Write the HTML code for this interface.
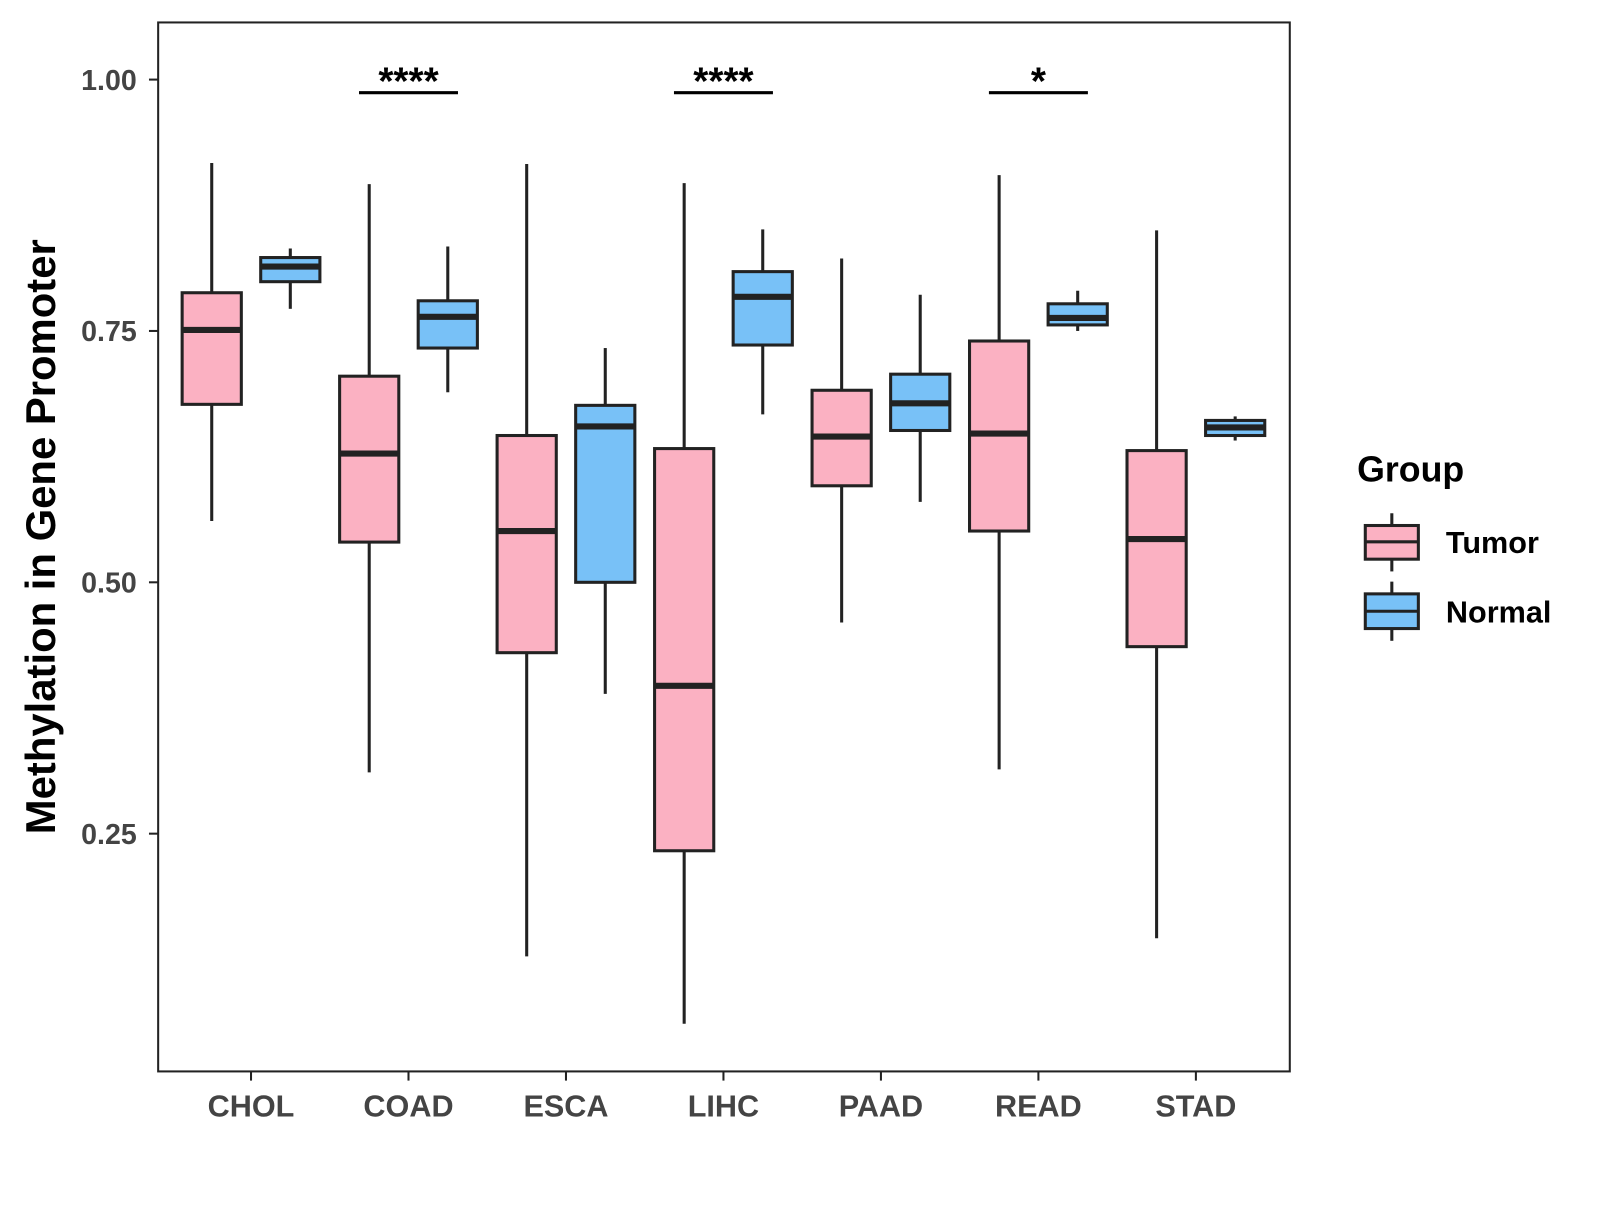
<!DOCTYPE html>
<html><head><meta charset="utf-8"><style>
body{margin:0;background:#fff}
svg text{font-family:"Liberation Sans",sans-serif;font-weight:bold}
</style></head><body>
<svg id="chart" width="1600" height="1200" xmlns="http://www.w3.org/2000/svg">
<g transform="scale(1.0204)">
<rect x="155" y="22" width="1109" height="1028" fill="#fff" stroke="#222" stroke-width="2"/>
<g id="marks"></g>
<g id="axes"></g>
<text x="54" y="526" font-size="41" fill="#000" text-anchor="middle" transform="rotate(-90 54 526)">Methylation in Gene Promoter</text>
<g>
<text x="1330" y="472" font-size="35" fill="#000">Group</text>
<g>
<line x1="1364" y1="503" x2="1364" y2="560" stroke="#222" stroke-width="3"/>
<rect x="1338" y="515" width="52" height="33" fill="#FBB1C2" stroke="#222" stroke-width="3"/>
<line x1="1338" y1="531" x2="1390" y2="531" stroke="#222" stroke-width="3"/>
<text x="1417" y="542" font-size="30" fill="#000">Tumor</text></g>
<g>
<line x1="1364" y1="570" x2="1364" y2="628" stroke="#222" stroke-width="3"/>
<rect x="1338" y="582" width="52" height="34" fill="#78C1F7" stroke="#222" stroke-width="3"/>
<line x1="1338" y1="599" x2="1390" y2="599" stroke="#222" stroke-width="3"/>
<text x="1417" y="610" font-size="30" fill="#000">Normal</text></g>
</g>
</g>
</svg>
<script>
const categories=["CHOL","COAD","ESCA","LIHC","PAAD","READ","STAD"];
const tumorLo=[0.561,0.311,0.128,0.061,0.460,0.314,0.146];
const tumorQ1=[0.677,0.540,0.430,0.233,0.596,0.551,0.436];
const tumorMed=[0.751,0.628,0.551,0.397,0.645,0.648,0.543];
const tumorQ3=[0.788,0.705,0.646,0.633,0.691,0.740,0.631];
const tumorHi=[0.917,0.896,0.916,0.897,0.822,0.905,0.850];
const normalLo=[0.772,0.689,0.389,0.667,0.580,0.750,0.641];
const normalQ1=[0.799,0.733,0.500,0.736,0.651,0.756,0.646];
const normalMed=[0.814,0.764,0.655,0.784,0.678,0.763,0.654];
const normalQ3=[0.823,0.780,0.676,0.809,0.707,0.777,0.661];
const normalHi=[0.832,0.834,0.733,0.851,0.786,0.790,0.665];
const yTicks=[0.25,0.5,0.75,1.0];
const yTickLabels=["0.25","0.50","0.75","1.00"];
const sigCats=["COAD","LIHC","READ"];
const sigLabels=["****","****","*"];
const sigLevel=[0.987];

const NS="http://www.w3.org/2000/svg";
function y(v){return 78+(1-v)*985.33;}
function x(i){return 246+i*154.33;}
function mk(tag,attrs,parent){const e=document.createElementNS(NS,tag);for(const k in attrs)e.setAttribute(k,attrs[k]);parent.appendChild(e);return e;}
const marks=document.getElementById('marks'),axes=document.getElementById('axes');
function box(cx,lo,q1,med,q3,hi,fill,name){
  const g=mk('g',{},marks);
  
  
  mk('line',{x1:cx,x2:cx,y1:y(hi),y2:y(q3),stroke:'#222','stroke-width':3},g);
  mk('line',{x1:cx,x2:cx,y1:y(q1),y2:y(lo),stroke:'#222','stroke-width':3},g);
  mk('rect',{x:cx-29,y:y(q3),width:58,height:y(q1)-y(q3),fill:fill,stroke:'#222','stroke-width':3},g);
  mk('line',{x1:cx-29,x2:cx+29,y1:y(med),y2:y(med),stroke:'#222','stroke-width':6},g);
}
categories.forEach((c,i)=>{
  box(x(i)-38.5,tumorLo[i],tumorQ1[i],tumorMed[i],tumorQ3[i],tumorHi[i],'#FBB1C2','box-tumor-'+c.toLowerCase());
  box(x(i)+38.5,normalLo[i],normalQ1[i],normalMed[i],normalQ3[i],normalHi[i],'#78C1F7','box-normal-'+c.toLowerCase());
  mk('line',{x1:x(i),x2:x(i),y1:1050,y2:1059,stroke:'#222','stroke-width':2},axes);
  const t=mk('text',{x:x(i),y:1094,'font-size':30,fill:'#444','text-anchor':'middle'},axes);
  t.textContent=c;
  
  
});
yTicks.forEach((v,i)=>{
  mk('line',{x1:146,x2:155,y1:y(v),y2:y(v),stroke:'#222','stroke-width':2},axes);
  const t=mk('text',{x:134,y:y(v)+10,'font-size':28,fill:'#444','text-anchor':'end'},axes);
  t.textContent=yTickLabels[i];
  
  
});
sigCats.forEach((c,k)=>{
  const i=categories.indexOf(c);
  const g=mk('g',{},marks);
  
  
  mk('line',{x1:x(i)-48.5,x2:x(i)+48.5,y1:y(sigLevel[0]),y2:y(sigLevel[0]),stroke:'#000','stroke-width':3},g);
  const t=mk('text',{x:x(i),y:y(sigLevel[0])+2,'font-size':38,fill:'#000','text-anchor':'middle'},g);
  t.textContent=sigLabels[k];
});
</script>
</body></html>
